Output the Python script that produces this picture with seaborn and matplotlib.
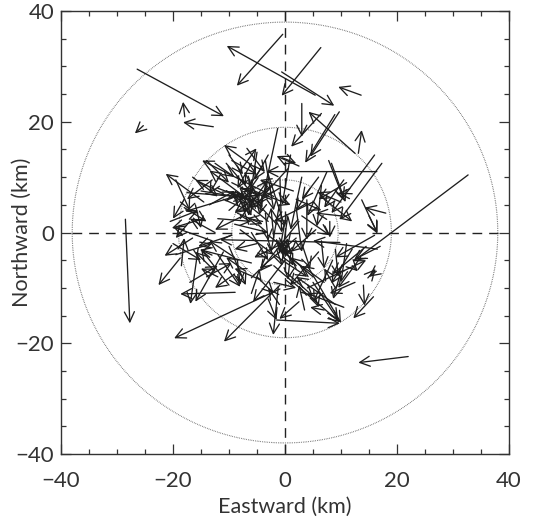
import numpy as np
import pandas as pd
import matplotlib
matplotlib.use("Agg")
import matplotlib.pyplot as plt
from matplotlib.ticker import MultipleLocator
import seaborn as sns

# ---- data (km): arrows start (x0,y0) -> head (x1,y1) ----
outer_x0 = [-26.4, -0.4, 6.4, 5.4, -0.6, 13.6, -12.8, -17.9, -25.3, -28.5, 22.0, 32.7, 16.4,
            -0.9, -0.9, -1.2, -18.7, -8.9, -15.5, 15.8, 14.0, 14.8, 16.3, -1.5, 5.0, 17.0,
            13.7, 13.1, 12.5, 3.0, 6.5, 9.7, 8.9, 16.0, 17.3, 7.8, 18.0, 8.3, 10.0]
outer_y0 = [29.5, 35.8, 33.4, 24.8, 29.0, 24.8, 19.1, 20.9, 19.3, 2.4, -22.4, 10.4, 11.0,
            -9.5, -10.2, -9.8, -4.6, -10.8, -2.8, -11.6, -9.5, -8.2, -7.0, -15.8, -9.0, -2.5,
            5.9, 14.3, 14.3, 23.3, 21.5, 21.8, 21.3, 14.0, 12.5, 13.0, 3.5, 12.5, 5.5]
outer_x1 = [-10.9, -8.6, -0.6, -10.4, 8.8, 9.5, -18.2, -18.2, -26.8, -27.7, 13.1, 12.2, -3.3,
            -10.9, -19.8, -2.1, -22.6, -18.7, -16.9, 12.2, 14.2, 16.2, 15.0, 9.8, 9.5, 12.5,
            16.5, 13.7, 4.2, 3.0, 1.1, 4.5, 3.6, 8.3, 9.8, 10.5, 14.2, 10.8, 5.8]
outer_y1 = [21.0, 26.5, 24.7, 33.7, 22.9, 26.3, 19.9, 23.6, 17.9, -16.4, -23.5, -5.2, 11.0,
            -19.7, -19.1, -18.5, -9.5, -11.1, -12.9, -15.5, -13.2, -6.6, -8.0, -16.4, -15.8, -4.8,
            -0.2, 18.5, 21.8, 17.3, 15.5, 13.7, 12.6, 3.5, 2.3, 6.0, 4.5, 5.5, 7.3]

core_x0 = [-1.3, -7.9, -5.6, -6.8, -14.5, -4.0, -2.0, -10.5, -12.0, -15.0, -17.5, -9.0, -3.0,
           -1.0, -10.0, -6.0, -8.0, -11.5, -16.0, -19.5, -13.0, -20.5, -14.5, -16.5, -0.9, 3.9,
           2.0, 9.8, -9.0, 6.5, 8.0, 3.0, -3.0, 5.0, -0.5, 2.0, 0.0, 6.0, 8.5, 12.0, 10.0, 4.0,
           -2.0, -8.5, -12.0, -5.0, -4.0, 2.5, -3.0, 5.5, 16.5, 16.0, 12.0, 4.0, -2.0, 10.5, 9.0,
           7.0, -6.0, -10.0, -12.5, -12.0, -18.5, -19.5, -11.0, -14.0, -7.0, -10.0, -6.0, -8.0,
           -4.5, -9.0, -12.0, -1.0, 1.0, -1.5, 3.5, 1.0, -3.5, -0.5, 2.5, 7.5, 6.0, 11.0, 10.0,
           12.0, 2.0, -5.5, -2.5, -8.0, -7.0, -4.5, -12.5, -8.5, -9.5, -6.0, -3.0, -11.0, -16.5,
           -18.0, -17.0, -12.5, -13.0, -9.5, -7.5, -5.0, -3.5, 0.5, 1.0, -1.0, 3.0, 6.5, 9.0,
           11.0, 13.5, 14.5, -1.0, 2.5, -3.0, 5.5, 0.0, -2.0, 3.0, 7.0, 15.0]
core_y0 = [18.8, 11.3, 11.9, 15.2, 5.5, 4.0, 6.5, 12.5, 8.0, 7.5, 7.2, 6.5, 2.0,
           8.0, 4.0, 9.5, 2.5, 10.5, 5.0, 9.5, 9.5, 2.0, 2.5, -1.0, 9.8, 5.9,
           4.5, -1.8, -4.5, 8.5, 2.0, 10.0, 10.5, 5.5, -2.0, -1.0, -5.0, -3.5, -5.0, -3.0, -7.0, -6.0,
           -6.0, -5.0, -4.0, -8.0, 2.0, 2.0, -0.5, 0.5, -3.0, -0.5, -6.0, -10.0, -9.0, -13.5, -13.0,
           -14.0, -5.5, -9.5, -7.0, -8.0, -6.0, -4.0, -3.5, -8.0, -7.0, -2.5, 0.0, 0.5,
           -8.5, 1.5, 2.5, 5.0, -4.0, -3.0, -6.5, 14.0, 13.0, 13.5, 12.0, 11.0, 10.0, 9.0, 3.0,
           7.0, 6.0, 7.5, 8.5, 8.0, 5.0, 5.5, 12.5, 12.0, 13.0, 12.5, 14.0, 7.0, 10.0,
           6.0, 2.0, 0.0, -1.5, -0.5, 3.0, -2.0, 3.5, 3.0, 0.0, -1.0, -2.0, -1.5, -3.0,
           -2.0, -4.5, -2.5, -13.0, -12.5, -12.0, -12.0, -7.0, -4.0, 3.0, 6.0, 3.0]
core_x1 = [-4.6, -5.1, -10.9, -3.6, -21.3, -13.5, -14.8, -5.8, -5.5, -7.0, -8.5, -17.8, -9.5,
           -6.5, -5.5, -6.5, -3.0, -13.5, -15.0, -17.0, -17.5, -15.5, -20.2, -21.5, -0.6, 3.9,
           3.0, -11.6, -13.5, 5.7, 8.0, 1.0, 0.0, -2.0, -5.5, -4.5, -5.7, 0.9, 5.1, 8.3, 8.6, 10.0,
           9.8, -8.0, -8.0, -2.0, -6.8, -4.5, 1.5, 1.0, 5.0, 9.0, 13.0, 14.5, 2.0, 4.0, 2.0,
           4.5, -15.2, -15.0, -16.0, -15.0, -18.0, -13.0, -16.0, -9.5, -10.5, -7.0, -3.0, -2.0,
           -9.0, -3.0, -6.0, -2.5, 0.5, -0.5, -1.0, -0.5, -2.0, 2.0, -1.5, 4.0, 3.0, 6.0, 5.5,
           9.5, 6.5, 1.0, -5.0, -6.0, -9.5, -7.5, -9.0, -7.0, -5.0, -8.5, -5.5, -16.0, -12.0,
           -20.0, -19.5, -17.0, -20.0, -15.5, -12.5, -9.0, -3.0, -0.5, 0.0, 1.5, 4.5, 7.0, 9.5,
           10.0, 9.5, 8.5, -3.0, -1.0, -1.5, 6.0, 5.0, 4.0, 8.0, 12.0, 16.5]
core_y1 = [3.2, 15.2, 15.8, 10.9, 10.6, 11.2, 13.0, 7.0, 5.5, 6.2, 6.5, 3.8, 7.5,
           4.5, 8.0, 3.0, 9.5, 7.0, 0.8, 4.0, 6.0, 4.0, 0.8, -4.2, 0.0, -1.3,
           -3.5, -1.3, -1.5, 1.1, -0.9, 0.5, 1.0, 2.0, -4.5, -6.5, -12.5, -9.5, -12.5, -9.2, -12.0, -16.3,
           -16.2, -9.5, -9.8, -11.0, 2.6, -7.0, -4.0, -3.5, -1.5, -4.5, -7.0, -5.0, -10.0, -11.0, -8.0,
           -13.5, -3.1, -3.0, -3.5, -6.5, -1.0, -2.0, -12.5, -5.5, -4.5, -9.5, -5.0, -4.0,
           -6.5, 0.0, 2.0, -3.5, -8.5, -6.0, -3.0, 5.0, 4.0, 12.5, 13.8, 3.0, 6.0, 6.0, 3.5,
           7.1, 4.0, 5.0, 5.0, 3.0, 7.0, 6.5, 10.0, 8.5, 10.5, 8.0, 9.5, 9.5, 6.5,
           2.5, -1.0, 2.5, 1.0, -2.5, 0.5, -3.0, -1.5, -4.0, -4.5, -6.0, -6.5, -6.5, -8.0,
           -9.0, -10.0, -7.5, -10.0, -15.6, -15.8, -13.5, -11.5, -8.0, -0.5, 2.0, 0.0]

dense_x0 = [-4.0, -9.5, -7.0, -2.5, -11.0, -6.5, -3.0, -13.5, -5.0, -10.0, -14.0, 1.5, 0.5,
            -8.5, -1.5, -2.0, 0.0, -0.5, 2.0, 5.0, 7.0, 9.0, 12.5, 3.5, -6.0, -9.0, -17.0,
            -20.0, -18.0, 10.5, 4.5]
dense_y0 = [12.0, 9.0, 10.5, 6.0, 6.0, 1.5, 8.0, 5.0, 14.5, 14.0, 13.0, 7.5, 11.5,
            3.5, 1.5, -1.0, 2.0, -5.0, -6.0, -8.0, -9.0, -10.0, -9.0, -14.0, -11.0, -7.5, -9.0,
            -2.0, 4.5, 9.5, 8.0]
dense_x1 = [-8.0, -4.5, -4.0, -7.5, -6.5, -8.5, -9.0, -9.0, -6.0, -7.5, -10.0, -4.5, -4.0,
            -4.0, -6.0, -2.5, -1.0, 0.5, -1.5, 1.0, 3.0, 7.0, 8.0, 2.5, -4.5, -12.5, -12.0,
            -15.0, -14.0, 7.0, 2.0]
dense_y1 = [6.0, 6.5, 4.5, 8.0, 4.0, 7.5, 3.5, 7.5, 8.0, 10.5, 9.0, 9.5, 6.5,
            1.5, 6.5, 4.5, -3.5, -1.0, -1.5, -4.5, -6.0, -6.5, -11.0, -9.5, -6.5, -10.0, -6.0,
            -5.0, 2.0, 4.5, 4.0]

ring_radii = [38.0, 19.0, 9.5]
tick_values = [-40, -20, 0, 20, 40]

# ---- build tables ----
arrows = pd.DataFrame({
    "x0": outer_x0 + core_x0 + dense_x0, "y0": outer_y0 + core_y0 + dense_y0,
    "x1": outer_x1 + core_x1 + dense_x1, "y1": outer_y1 + core_y1 + dense_y1,
})
theta = np.linspace(0, 2 * np.pi, 721)
rings = pd.concat([
    pd.DataFrame({"x": r * np.cos(theta), "y": r * np.sin(theta), "ring": i})
    for i, r in enumerate(ring_radii)
])

sns.set_style("ticks")
plt.rcParams["font.family"] = ["Lato", "DejaVu Sans"]

fig = plt.figure(figsize=(5.36, 5.32), dpi=100)
ax = fig.add_axes([0.1138, 0.1466, 0.8358, 0.8327])

sns.lineplot(data=rings, x="x", y="y", units="ring", estimator=None, sort=False,
             color="#555555", lw=0.8, linestyle=(0, (0.6, 1.0)), ax=ax, legend=False)

outer_r = ring_radii[0]
ax.plot([-outer_r, outer_r], [0, 0], color="#222222", lw=1.0, linestyle=(0, (7, 5)))
ax.plot([0, 0], [-40, 40], color="#222222", lw=1.0, linestyle=(0, (7, 5)))

for r in arrows.itertuples():
    ax.annotate("", xy=(r.x1, r.y1), xytext=(r.x0, r.y0),
                arrowprops=dict(arrowstyle="->", color="#1e1e1e", lw=0.95,
                                shrinkA=0, shrinkB=0, mutation_scale=18))

ax.set_xlim(-40, 40)
ax.set_ylim(-40, 40)
ax.set_xticks(tick_values)
ax.set_yticks(tick_values)
ax.xaxis.set_minor_locator(MultipleLocator(5))
ax.yaxis.set_minor_locator(MultipleLocator(5))
ax.tick_params(which="both", direction="in", top=True, right=True, color="#333333",
               width=0.9, labelsize=16, labelcolor="#333333")
ax.tick_params(which="major", length=7)
ax.tick_params(which="minor", length=3.5)
ax.tick_params(axis="x", pad=12)
ax.tick_params(axis="y", pad=5)
for s in ax.spines.values():
    s.set_linewidth(1.0)
    s.set_color("#333333")
    s.set_visible(True)

ax.set_xlabel("Eastward (km)", fontsize=15.5, color="#333333")
ax.set_ylabel("Northward (km)", fontsize=15.5, color="#333333")
ax.xaxis.set_label_coords(0.5, -0.097)
ax.yaxis.set_label_coords(-0.066, 0.5)

fig.savefig("out.png", dpi=100)
